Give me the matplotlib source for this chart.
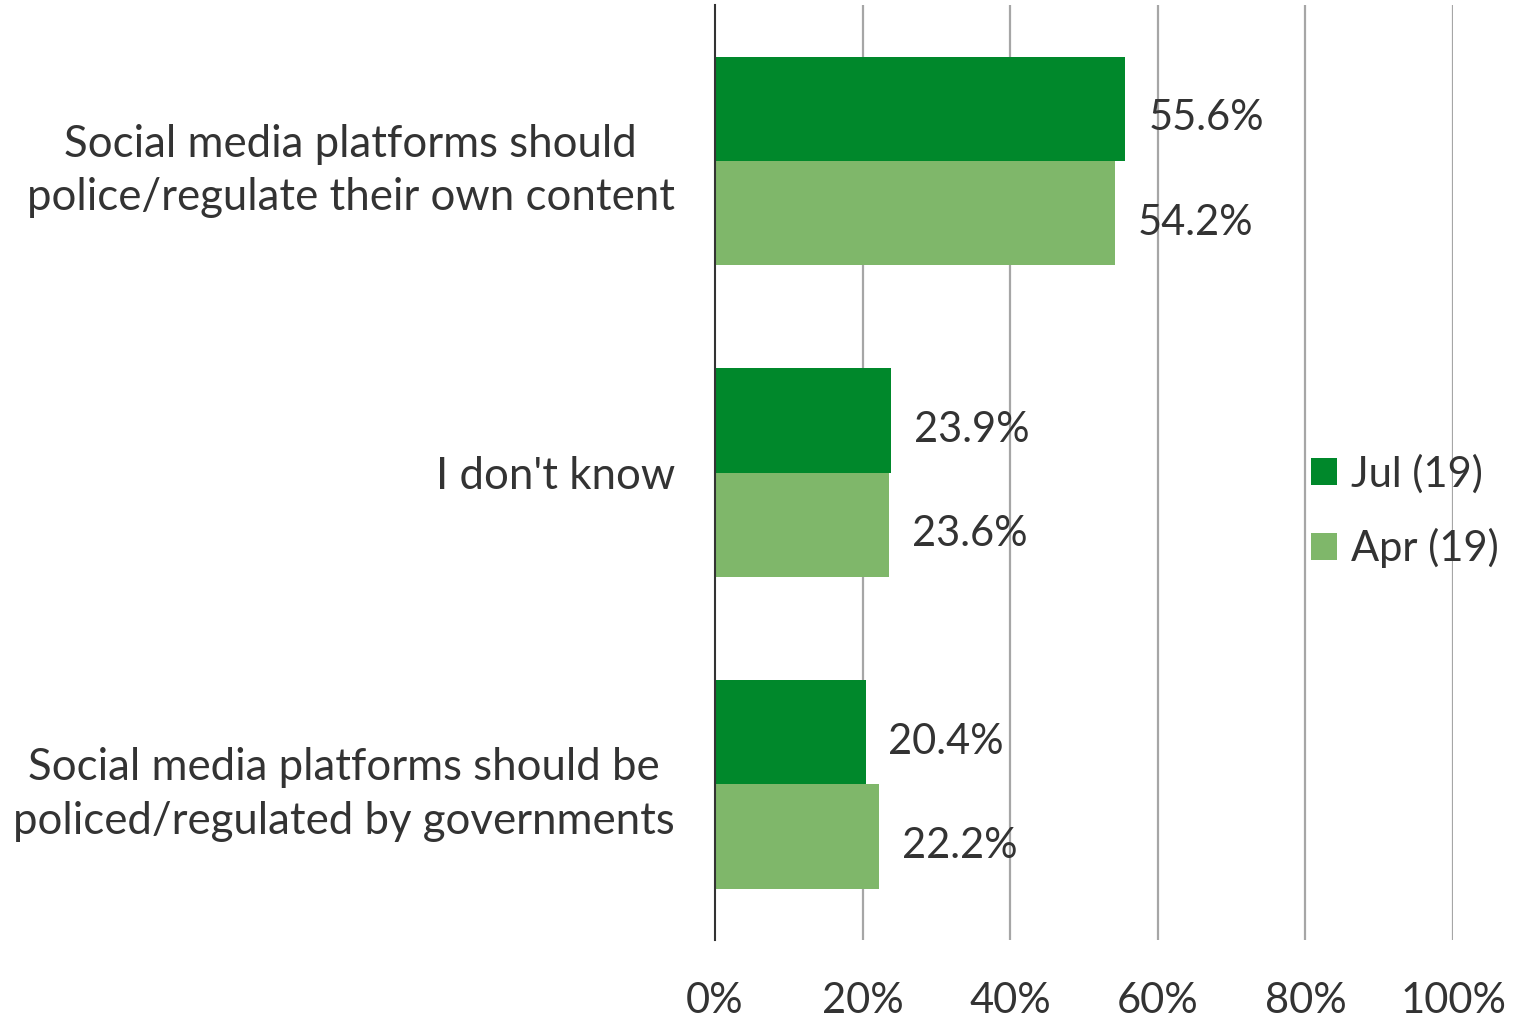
import numpy as np
import matplotlib.pyplot as plt

categories = [
    "Social media platforms should\npolice/regulate their own content",
    "I don't know",
    "Social media platforms should be\npoliced/regulated by governments",
]
jul_19 = [55.6, 23.9, 20.4]
apr_19 = [54.2, 23.6, 22.2]
series_names = ["Jul (19)", "Apr (19)"]
xticks = [0, 20, 40, 60, 80, 100]

plt.rcParams['font.family'] = ['Lato', 'DejaVu Sans']
TXT = "#333333"

fig = plt.figure(figsize=(15.23, 10.19), dpi=100)
ax = fig.add_axes([0.4695, 0.0775, 0.4846, 0.9175])

y = np.arange(len(categories))
h = 0.335
ax.barh(y - h / 2, jul_19, height=h, color="#00882B", label=series_names[0], zorder=3)
ax.barh(y + h / 2, apr_19, height=h, color="#7FB76A", label=series_names[1], zorder=3)

# value labels sit a touch below the bar centre, like the original
for i in range(len(categories)):
    ax.text(jul_19[i] + 3.1, y[i] - h / 2 + 0.02, f"{jul_19[i]:.1f}%", va="center_baseline",
            ha="left", fontsize=30, color=TXT, zorder=4)
    ax.text(apr_19[i] + 3.1, y[i] + h / 2 + 0.02, f"{apr_19[i]:.1f}%", va="center_baseline",
            ha="left", fontsize=30, color=TXT, zorder=4)

ax.set_xlim(0, 100)
ax.set_ylim(2.5, -0.5)
ax.set_xticks(xticks)
ax.set_xticklabels([f"{t}%" for t in xticks], fontsize=30, color=TXT)
ax.set_yticks(y)
ax.set_yticklabels(categories, fontsize=31.5, color=TXT, ha="right",
                   multialignment="center", linespacing=1.38)
ax.tick_params(axis="x", length=0, pad=30)
ax.tick_params(axis="y", length=0, pad=29)

ax.grid(axis="x", color="#A6A6A6", linewidth=1.6, zorder=0)
ax.xaxis.get_gridlines()[0].set_visible(False)
for s in ["top", "right", "bottom"]:
    ax.spines[s].set_visible(False)
ax.spines["left"].set_color("#333333")
ax.spines["left"].set_linewidth(1.5)
ax.spines["left"].set_zorder(5)

ax.legend(loc="center left", bbox_to_anchor=(0.808, 0.459), frameon=False, fontsize=30,
          handlelength=0.62, handleheight=0.62, handletextpad=0.33, labelspacing=0.82,
          borderpad=0, borderaxespad=0, labelcolor=TXT)

fig.savefig("out.png", dpi=100)
